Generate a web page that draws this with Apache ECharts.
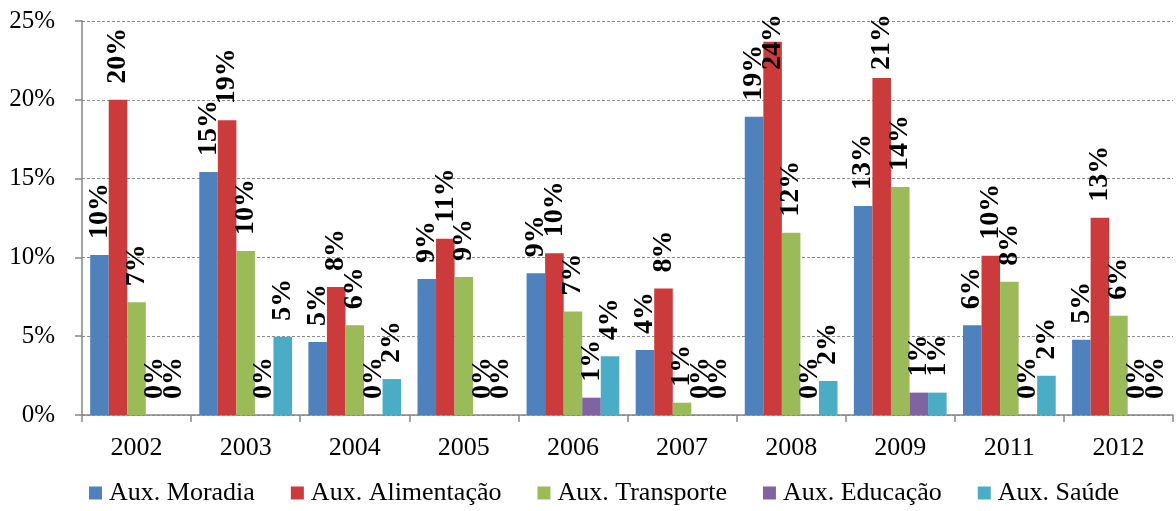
<!DOCTYPE html>
<html>
<head>
<meta charset="utf-8">
<script src="https://cdn.jsdelivr.net/npm/echarts@6/dist/echarts.min.js"></script>
<style>
  html, body { margin: 0; padding: 0; background: #fff; }
  #chart { width: 1176px; height: 511px; }
</style>
</head>
<body>
<div id="chart"></div>
<script>
// Benefit shares by year (percent)
const years = ['2002', '2003', '2004', '2005', '2006', '2007', '2008', '2009', '2011', '2012'];
const seriesNames = ['Aux. Moradia', 'Aux. Alimentação', 'Aux. Transporte', 'Aux. Educação', 'Aux. Saúde'];
const moradia     = [10.15, 15.42, 4.63, 8.63, 8.99, 4.12, 18.93, 13.26, 5.69, 4.78];
const alimentacao = [20.0, 18.7, 8.12, 11.19, 10.26, 8.02, 23.69, 21.38, 10.11, 12.52];
const transporte  = [7.15, 10.4, 5.69, 8.76, 6.56, 0.78, 11.57, 14.47, 8.46, 6.3];
const educacao    = [0, 0, 0, 0, 1.1, 0, 0, 1.42, 0, 0];
const saude       = [0, 4.97, 2.28, 0, 3.72, 0, 2.16, 1.42, 2.49, 0];
const yTicks = [0, 5, 10, 15, 20, 25];

const colors = ['#4F81BD', '#CB3B3B', '#9BBB59', '#8064A2', '#4BACC6'];
const serif = '"Liberation Serif", "Times New Roman", serif';
const values = [moradia, alimentacao, transporte, educacao, saude];

// Labels that would run past the top of the canvas are pushed back down
const LABEL_TOP_LIMIT = 14;

const chart = echarts.init(document.getElementById('chart'), null, { renderer: 'canvas' });

chart.setOption({
  animation: false,
  color: colors,
  grid: { left: 82, right: 3, top: 21, bottom: 96, containLabel: false },
  legend: {
    data: seriesNames,
    bottom: 0,
    left: 84,
    itemWidth: 13,
    itemHeight: 13,
    itemGap: 36,
    icon: 'rect',
    textStyle: { fontFamily: serif, fontSize: 26, color: '#000', padding: [0, 0, 0, 2] }
  },
  xAxis: {
    type: 'category',
    data: years,
    boundaryGap: true,
    axisLine: { lineStyle: { color: '#868686', width: 1.5 } },
    axisTick: { show: true, alignWithLabel: false, length: 7, lineStyle: { color: '#868686', width: 1.5 } },
    axisLabel: { fontFamily: serif, fontSize: 26, color: '#000', margin: 20 }
  },
  yAxis: {
    type: 'value',
    min: yTicks[0],
    max: yTicks[yTicks.length - 1],
    interval: yTicks[1] - yTicks[0],
    axisLine: { show: true, lineStyle: { color: '#868686', width: 1.5 } },
    axisTick: { show: true, inside: false, length: 7, lineStyle: { color: '#868686', width: 1.5 } },
    axisLabel: { fontFamily: serif, fontSize: 25, color: '#000', margin: 27, formatter: '{value}%' },
    splitLine: { show: true, lineStyle: { color: '#8c8c8c', type: [3, 2], width: 1 } }
  },
  series: seriesNames.map((name, i) => ({
    name: name,
    type: 'bar',
    data: values[i],
    barGap: '0%',
    barCategoryGap: '15%',
    label: {
      show: true,
      position: 'top',
      rotate: 90,
      align: 'left',
      verticalAlign: 'middle',
      distance: 16,
      fontFamily: serif,
      fontWeight: 'bold',
      fontSize: 28,
      color: '#000',
      formatter: p => Math.round(p.value) + '%'
    },
    labelLayout: params => {
      const r = params.labelRect;
      if (r.y < LABEL_TOP_LIMIT) {
        return { y: LABEL_TOP_LIMIT + r.height };
      }
      return {};
    }
  }))
});
</script>
</body>
</html>
